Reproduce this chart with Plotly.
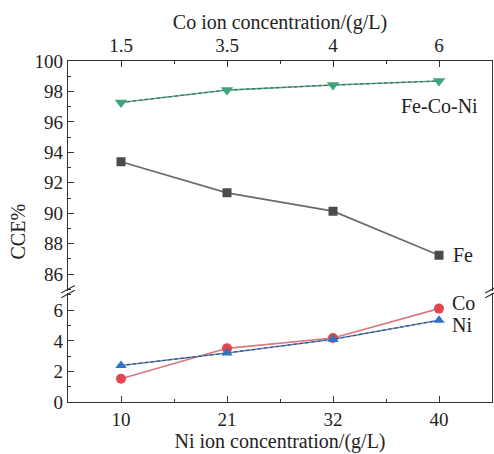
import plotly.graph_objects as go

# ---- data ----
ni_conc = ["10", "21", "32", "40"]          # bottom axis categories (g/L)
co_conc = ["1.5", "3.5", "4", "6"]          # top axis categories (g/L)
fe_co_ni = [97.28, 98.09, 98.42, 98.69]
fe = [93.38, 91.34, 90.14, 87.24]
co = [1.52, 3.51, 4.19, 6.11]
ni = [2.39, 3.21, 4.10, 5.35]

pos = list(range(len(ni_conc)))
FONT = "Liberation Serif"

fig = go.Figure()

def series(y, yax, line_col, dash_col, mk_col, symbol, size, name):
    fig.add_trace(go.Scatter(x=pos, y=y, xaxis="x", yaxis=yax, mode="lines",
                             line=dict(color=line_col, width=1.6), showlegend=False, name=name))
    if dash_col:
        fig.add_trace(go.Scatter(x=pos, y=y, xaxis="x", yaxis=yax, mode="lines",
                                 line=dict(color=dash_col, width=1.1, dash="3px,3px"),
                                 showlegend=False, name=name))
    fig.add_trace(go.Scatter(x=pos, y=y, xaxis="x", yaxis=yax, mode="markers",
                             marker=dict(color=mk_col, symbol=symbol, size=size, line=dict(width=0)),
                             showlegend=False, name=name))

series(fe_co_ni, "y2", "#4fae85", "#4a5a52", "#3ca57a", "triangle-down", 11, "Fe-Co-Ni")
series(fe, "y2", "#6a6a6a", None, "#4b4b4b", "square", 9, "Fe")
series(co, "y", "#d9777c", None, "#e0464d", "circle", 10, "Co")
series(ni, "y", "#5b86c0", "#3b4a66", "#2f74c4", "triangle-up", 10, "Ni")

# invisible trace to carry the top axis
fig.add_trace(go.Scatter(x=pos, y=fe_co_ni, xaxis="x2", yaxis="y2", mode="markers",
                         marker=dict(opacity=0), showlegend=False, hoverinfo="skip"))

tickfont = dict(family=FONT, size=19, color="#222")
titlefont = dict(family=FONT, size=20, color="#222")

# geometry of the broken axis
low_top = 0.3205
up_bot = 0.3264

common_x = dict(range=[-0.5, len(pos) - 0.5], tickmode="array", tickvals=pos,
                showline=True, linecolor="#333", linewidth=1.2, ticks="inside",
                ticklen=6, tickcolor="#333", showgrid=False, zeroline=False,
                tickfont=tickfont,
                minor=dict(tickmode="array", tickvals=[p + 0.5 for p in pos[:-1]],
                           ticks="inside", ticklen=3, tickcolor="#333"))

fig.update_layout(
    width=494, height=454,
    margin=dict(l=68, r=2, t=61, b=52),
    paper_bgcolor="white", plot_bgcolor="white",
    font=dict(family=FONT, size=19, color="#222"),
    xaxis=dict(**common_x, ticktext=ni_conc, anchor="y", mirror=False,
               title=dict(text="Ni ion concentration/(g/L)", font=titlefont, standoff=5)),
    xaxis2=dict(**common_x, ticktext=co_conc, anchor="y2", side="top", overlaying="x",
                title=dict(text="Co ion concentration/(g/L)", font=titlefont, standoff=0)),
    yaxis=dict(domain=[0, low_top], range=[0, 7.15], tick0=0, dtick=2, anchor="x",
               showline=True, mirror=True, linecolor="#333", linewidth=1.2,
               ticks="inside", ticklen=6, tickcolor="#333", showgrid=False, zeroline=False,
               tickfont=tickfont,
               minor=dict(dtick=1, ticks="inside", ticklen=3, tickcolor="#333")),
    yaxis2=dict(domain=[up_bot, 1], range=[84.915, 100], tick0=0, dtick=2, anchor="x",
                showline=True, mirror=True, linecolor="#333", linewidth=1.2,
                ticks="inside", ticklen=6, tickcolor="#333", showgrid=False, zeroline=False,
                tickfont=tickfont,
                minor=dict(dtick=1, ticks="inside", ticklen=3, tickcolor="#333")),
)

# y-axis title centred across both segments
fig.add_annotation(text="CCE%", xref="paper", yref="paper", x=-0.118, y=0.5,
                   textangle=-90, showarrow=False, font=titlefont,
                   xanchor="center", yanchor="middle")

# series labels
fig.add_annotation(text="Fe-Co-Ni", x=pos[-1], y=97.04, xref="x", yref="y2",
                   showarrow=False, xanchor="center", font=titlefont)
fig.add_annotation(text="Fe", x=pos[-1], y=fe[-1], xref="x", yref="y2",
                   showarrow=False, xanchor="left", xshift=12, font=titlefont)
fig.add_annotation(text="Co", x=pos[-1], y=6.48, xref="x", yref="y",
                   showarrow=False, xanchor="left", xshift=11, font=titlefont)
fig.add_annotation(text="Ni", x=pos[-1], y=5.02, xref="x", yref="y",
                   showarrow=False, xanchor="left", xshift=11, font=titlefont)

# axis-break marks on left and right frames
yc = (low_top + up_bot) / 2
for xc in (0, 1):
    for off in (-0.007, 0.007):
        fig.add_shape(type="line", xref="paper", yref="paper",
                      x0=xc - 0.016, y0=yc + off - 0.011,
                      x1=xc + 0.016, y1=yc + off + 0.011,
                      line=dict(color="#333", width=1.2))

fig.write_html("out.html")
